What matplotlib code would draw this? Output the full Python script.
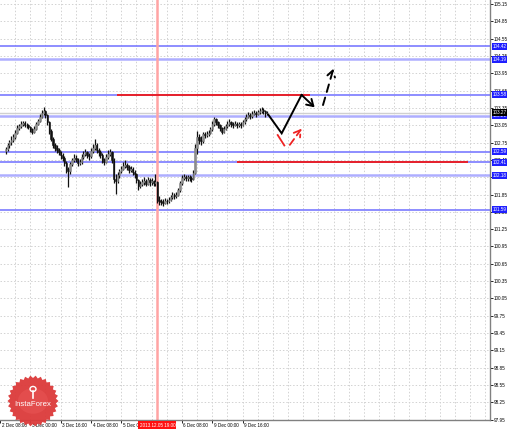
import numpy as np
import matplotlib
matplotlib.use("Agg")
import matplotlib.pyplot as plt
from matplotlib.patches import Polygon, Rectangle, Circle
import matplotlib.transforms as mtrans

plt.rcParams["font.family"] = ["Liberation Sans", "DejaVu Sans"]

# ---------------- data ----------------
closes = [102.63, 102.70, 102.76, 102.80, 102.85, 102.92, 103.01, 103.04, 103.07, 103.09,
          103.06, 103.05, 103.02, 102.98, 102.94, 102.99, 103.08, 103.12, 103.20, 103.26,
          103.30, 103.22, 103.11, 102.95, 102.82, 102.71, 102.66, 102.62, 102.58, 102.53,
          102.49, 102.40, 102.30, 102.25, 102.38, 102.44, 102.49, 102.46, 102.40, 102.42,
          102.50, 102.55, 102.58, 102.53, 102.51, 102.60, 102.66, 102.71, 102.62, 102.58,
          102.54, 102.46, 102.42, 102.50, 102.55, 102.59, 102.45, 102.12, 102.08, 102.18,
          102.25, 102.30, 102.35, 102.37, 102.33, 102.28, 102.30, 102.24, 102.20, 102.10,
          101.99, 102.03, 102.06, 102.08, 102.04, 102.10, 102.06, 102.08, 102.05, 102.06,
          101.76, 101.74, 101.72, 101.71, 101.74, 101.73, 101.76, 101.80, 101.85, 101.83,
          101.85, 101.92, 102.05, 102.14, 102.16, 102.13, 102.15, 102.14, 102.12, 102.23,
          102.66, 102.84, 102.80, 102.77, 102.89, 102.88, 102.90, 102.92, 102.98, 103.08,
          103.15, 103.10, 103.06, 103.00, 102.94, 102.98, 103.03, 103.08, 103.10, 103.07,
          103.06, 103.08, 103.05, 103.07, 103.06, 103.10, 103.16, 103.20, 103.23, 103.21,
          103.25, 103.27, 103.24, 103.28, 103.30, 103.32, 103.29, 103.26, 103.27]
highs = [102.68, 102.74, 102.80, 102.86, 102.90, 102.96, 103.05, 103.08, 103.12, 103.13,
         103.12, 103.09, 103.07, 103.04, 103.00, 103.03, 103.11, 103.16, 103.24, 103.31,
         103.36, 103.32, 103.25, 103.13, 102.98, 102.85, 102.75, 102.70, 102.65, 102.61,
         102.57, 102.52, 102.43, 102.33, 102.42, 102.49, 102.55, 102.53, 102.49, 102.47,
         102.55, 102.60, 102.64, 102.61, 102.57, 102.65, 102.72, 102.82, 102.74, 102.66,
         102.62, 102.57, 102.49, 102.55, 102.62, 102.64, 102.61, 102.48, 102.20, 102.24,
         102.29, 102.35, 102.42, 102.45, 102.40, 102.36, 102.34, 102.32, 102.27, 102.23,
         102.12, 102.08, 102.12, 102.15, 102.12, 102.16, 102.14, 102.13, 102.11, 102.20,
         102.08, 101.82, 101.78, 101.77, 101.79, 101.78, 101.81, 101.84, 101.89, 101.88,
         101.90, 101.96, 102.09, 102.19, 102.21, 102.19, 102.19, 102.19, 102.17, 102.28,
         102.72, 102.95, 102.90, 102.86, 102.93, 102.93, 102.95, 102.97, 103.02, 103.12,
         103.19, 103.17, 103.12, 103.08, 103.02, 103.03, 103.07, 103.12, 103.15, 103.13,
         103.11, 103.12, 103.11, 103.11, 103.10, 103.14, 103.20, 103.24, 103.28, 103.26,
         103.29, 103.31, 103.30, 103.32, 103.35, 103.37, 103.35, 103.31, 103.30]
lows = [102.55, 102.60, 102.66, 102.71, 102.76, 102.82, 102.89, 102.97, 103.00, 103.03,
        103.02, 103.01, 102.98, 102.94, 102.90, 102.92, 102.97, 103.05, 103.10, 103.17,
        103.23, 103.17, 103.06, 102.90, 102.78, 102.65, 102.60, 102.57, 102.53, 102.46,
        102.43, 102.35, 102.22, 101.98, 102.20, 102.34, 102.41, 102.41, 102.34, 102.36,
        102.38, 102.46, 102.51, 102.48, 102.45, 102.49, 102.57, 102.62, 102.57, 102.52,
        102.49, 102.40, 102.36, 102.40, 102.47, 102.51, 102.40, 102.05, 101.86, 102.05,
        102.14, 102.22, 102.27, 102.31, 102.27, 102.22, 102.24, 102.18, 102.14, 102.05,
        101.93, 101.96, 102.00, 102.02, 101.99, 102.01, 102.00, 102.02, 101.99, 102.00,
        101.70, 101.67, 101.66, 101.65, 101.68, 101.68, 101.70, 101.74, 101.78, 101.77,
        101.79, 101.83, 101.90, 102.02, 102.10, 102.08, 102.09, 102.09, 102.07, 102.10,
        102.20, 102.55, 102.72, 102.70, 102.75, 102.83, 102.84, 102.86, 102.90, 102.95,
        103.04, 103.05, 103.01, 102.95, 102.89, 102.92, 102.96, 103.00, 103.04, 103.02,
        103.01, 103.03, 103.00, 103.02, 103.01, 103.04, 103.08, 103.13, 103.17, 103.16,
        103.18, 103.22, 103.20, 103.22, 103.25, 103.27, 103.24, 103.20, 103.22]
first_open = 102.60

# time axis labels (bar index -> label)
time_tick_bars = [-3, 13, 29, 45, 61, 93, 109, 125]
time_tick_labels = ["2 Dec 08:00", "3 Dec 00:00", "3 Dec 16:00", "4 Dec 08:00",
                    "5 Dec 00:00", "6 Dec 08:00", "9 Dec 00:00", "9 Dec 16:00"]
marker_bar = 80
marker_label = "2013.12.05 19:00"

price_ticks = [97.95, 98.25, 98.55, 98.85, 99.15, 99.45, 99.75, 100.05, 100.35, 100.65,
               100.95, 101.25, 101.55, 101.85, 102.15, 102.45, 102.75, 103.05, 103.35,
               103.65, 103.95, 104.25, 104.55, 104.85, 105.15]

blue_levels_dark = [104.42, 103.58, 102.59, 102.41, 101.59]
blue_levels_light = [104.19, 103.21, 102.18]
blue_level_label = [104.42, 104.19, 103.58, 103.21, 102.59, 102.41, 102.18, 101.59]
bid_price = 103.27

red_level_upper = 103.58
red_upper_bars = [58.7, 160.3]
red_level_lower = 102.41
red_lower_bars = [122, 244]

# forecast paths (bar, price)
solid_path_bars = [138.6, 145.6, 156.1]
solid_path_prices = [103.23, 102.91, 103.575]
solid_arrow_end = (163.0, 103.36)
dashed_arrow_start = (167.4, 103.40)
dashed_arrow_end = (172.9, 104.03)
red_stroke_bars = [143.5, 147.0]
red_stroke_prices = [102.88, 102.70]
red_arrow_start = (149.9, 102.71)
red_arrow_end = (156.1, 102.99)

# ---------------- figure ----------------
W, H = 510, 433
fig = plt.figure(figsize=(W / 100, H / 100), dpi=100)
fig.patch.set_facecolor("white")
ax = fig.add_axes([0, 13 / H, 490 / W, 420 / H])
ax.set_xlim(-1, 255.5)
ax.set_ylim(97.945, 105.219)

FS = 3.3

# grid
grid_bars = np.arange(5, 256, 8)
for gb in grid_bars:
    ax.axvline(gb, color="#d2d2d2", lw=0.7, ls=(0, (1.5, 2)), zorder=0)
for p in price_ticks:
    ax.axhline(p, color="#d2d2d2", lw=0.7, ls=(0, (1.5, 2)), zorder=0)

# levels
for lv in blue_levels_dark:
    ax.axhline(lv, color="#7a7aff", lw=1.2, zorder=1)
for lv in blue_levels_light:
    ax.axhline(lv, color="#aeaeff", lw=1.8, zorder=1)
ax.axhline(bid_price, color="#d0d0d0", lw=1.0, zorder=1)
ax.hlines(red_level_upper, red_upper_bars[0], red_upper_bars[1], color="#e8202a", lw=1.4, zorder=2)
ax.hlines(red_level_lower, red_lower_bars[0], red_lower_bars[1], color="#e8202a", lw=1.4, zorder=2)

# marker vertical line
ax.axvline(marker_bar, color="#ffa4a4", lw=1.8, zorder=1)

# candles
n = len(closes)
idx = np.arange(n)
opens = [first_open] + closes[:-1]
ax.vlines(idx, lows, highs, color="#111111", lw=0.9, zorder=3)
for i in range(n):
    o, c = opens[i], closes[i]
    lo, hi = min(o, c), max(o, c)
    if hi - lo < 0.01:
        hi = lo + 0.01
    col = "#111111" if c < o else "#8c8c8c"
    ax.add_patch(Rectangle((i - 0.4, lo), 0.8, hi - lo, facecolor=col,
                           edgecolor=col, lw=0.4, zorder=4))

# forecast arrows
head = "->,head_length=0.45,head_width=0.28"
ax.plot(solid_path_bars, solid_path_prices, color="black", lw=1.4, zorder=5,
        solid_joinstyle="miter")
ax.annotate("", xy=solid_arrow_end, xytext=(solid_path_bars[-1], solid_path_prices[-1]),
            arrowprops=dict(arrowstyle=head, color="black", lw=1.4,
                            shrinkA=0, shrinkB=0), zorder=5)
ax.annotate("", xy=dashed_arrow_end, xytext=dashed_arrow_start,
            arrowprops=dict(arrowstyle=head, color="black", lw=1.4, ls=(0, (4, 3)),
                            shrinkA=0, shrinkB=0), zorder=5)
ax.plot(red_stroke_bars, red_stroke_prices, color="#ee2222", lw=1.3, zorder=5)
ax.annotate("", xy=red_arrow_end, xytext=red_arrow_start,
            arrowprops=dict(arrowstyle=head, color="#ee2222", lw=1.3, ls=(0, (4, 2.5)),
                            shrinkA=0, shrinkB=0), zorder=5)

# axes styling
for s in ["top", "left"]:
    ax.spines[s].set_visible(False)
for s in ["right", "bottom"]:
    ax.spines[s].set_color("#808080")
    ax.spines[s].set_linewidth(1.0)

ax.yaxis.tick_right()
ax.set_yticks(price_ticks)
ax.set_yticklabels([f"{p:.2f}" for p in price_ticks])
ax.tick_params(axis="y", length=2, width=0.6, pad=1, labelsize=FS, colors="black")

ax.set_xticks(time_tick_bars)
ax.set_xticklabels([])
ax.tick_params(axis="x", length=2, width=0.6, colors="black")

xform = mtrans.blended_transform_factory(ax.transData, ax.transAxes)
for b, lab in zip(time_tick_bars, time_tick_labels):
    ax.text(b + 0.8, -0.006, lab, transform=xform, ha="left", va="top",
            fontsize=FS, color="black", clip_on=False)
ax.text(marker_bar, -0.006, marker_label, transform=xform, ha="center", va="top",
        fontsize=FS, color="white", clip_on=False, zorder=12,
        bbox=dict(boxstyle="square,pad=0.25", fc="#ff1010", ec="none"))

yform = mtrans.blended_transform_factory(ax.transAxes, ax.transData)
for lv in blue_level_label:
    ax.text(1.005, lv, f"{lv:.2f}", transform=yform, ha="left", va="center",
            fontsize=FS, color="white", clip_on=False, zorder=10,
            bbox=dict(boxstyle="square,pad=0.2", fc="#1f1fff", ec="none"))
ax.text(1.005, bid_price, f"{bid_price:.2f}", transform=yform, ha="left", va="center",
        fontsize=FS, color="white", clip_on=False, zorder=11,
        bbox=dict(boxstyle="square,pad=0.2", fc="black", ec="none"))

# ---------------- logo ----------------
cx, cy = 33, H - 401
teeth = 30
pts = []
for k in range(teeth * 2):
    ang = np.pi * k / teeth
    r = 25.5 if k % 2 == 0 else 23
    pts.append(((cx + r * np.cos(ang)) / W, (cy + r * np.sin(ang)) / H))
fig.add_artist(Polygon(pts, closed=True, transform=fig.transFigure,
                       facecolor="#dc3a3a", edgecolor="none", alpha=0.95, zorder=20))
fig.add_artist(Circle((cx / W, cy / H), 15 / W, transform=fig.transFigure,
                      facecolor="#e85454", edgecolor="none", alpha=0.6, zorder=20))
fig.text(cx / W, (cy - 4) / H, "InstaForex", color="white", fontsize=5.6,
         ha="center", va="center", zorder=21)
# small emblem
fig.add_artist(Circle((cx / W, (cy + 12) / H), 3.0 / W, transform=fig.transFigure,
                      facecolor="none", edgecolor="white", lw=1.0, zorder=21))
fig.add_artist(plt.Line2D([cx / W, cx / W], [(cy + 3) / H, (cy + 10) / H],
                          transform=fig.transFigure, color="white", lw=1.2, zorder=21))

fig.savefig("out.png", dpi=100)
